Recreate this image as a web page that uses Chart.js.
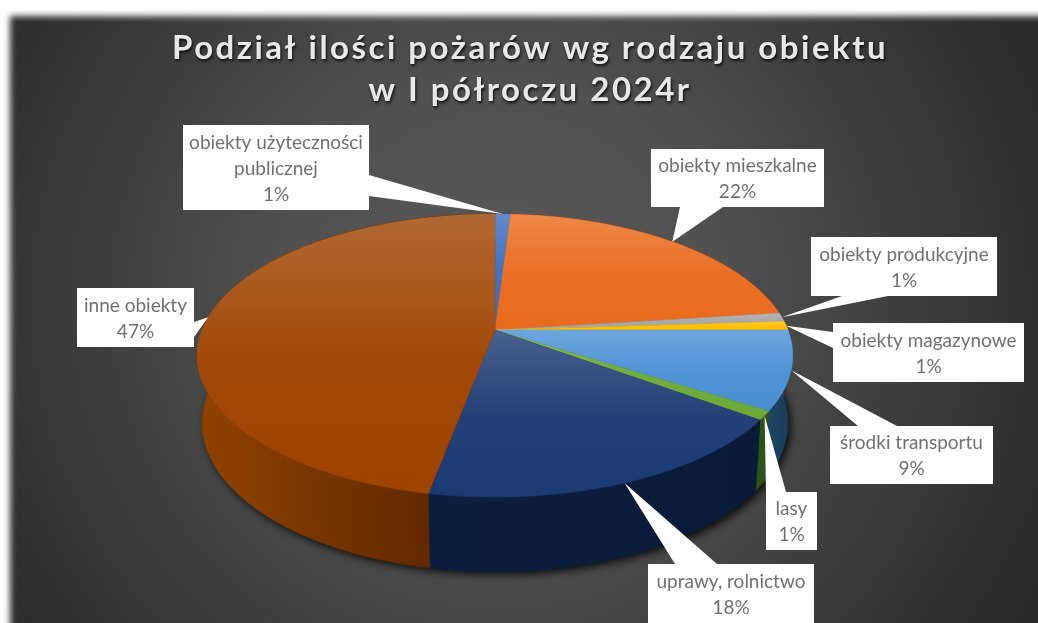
<!DOCTYPE html>
<html>
<head>
<meta charset="utf-8">
<title>Podział ilości pożarów</title>
<script src="https://cdn.jsdelivr.net/npm/chart.js@4"></script>
<style>
    body { margin: 0; background: #fff; overflow: hidden; }
    canvas { display: block; }
</style>
</head>
<body>
<canvas id="chart" width="1038" height="623"></canvas>
<script>
// Chart data
let categories = [
    'obiekty użyteczności publicznej',
    'obiekty mieszkalne',
    'obiekty produkcyjne',
    'obiekty magazynowe',
    'środki transportu',
    'lasy',
    'uprawy, rolnictwo',
    'inne obiekty'
];
let shares = [1, 22, 1, 1, 9, 1, 18, 47];
let titleLines = ['Podział ilości pożarów wg rodzaju obiektu', 'w I półroczu 2024r'];

// Slice colours: top face, then the wall (light end, dark end)
let topColors = ['#3a6cc0', '#e96a1c', '#a5a5a5', '#fdbf00', '#4a8fd4', '#6aa838', '#1b3a73', '#9e4300'];
let wallLight = ['#1d3a66', '#7a3a10', '#555555', '#806000', '#1f4768', '#2f5019', '#0d1f40', '#8f4200'];
let wallDark = ['#1d3a66', '#7a3a10', '#555555', '#806000', '#1a3d5c', '#2f5019', '#0a1a38', '#622800'];

// Label boxes: [left, top, right, bottom], the two wedge base points, and text lines
let boxes = [
    [183, 125, 369, 210], [651, 149, 824, 207], [811, 237, 997, 296], [833, 323, 1024, 382],
    [830, 426, 993, 484], [766, 492, 817, 550], [648, 564, 814, 623], [77, 288, 194, 347]
];
let wedges = [
    [[369, 175], [369, 196]], [[680, 207], [723, 207]], [[842, 296], [888, 296]], [[833, 332], [833, 348]],
    [[858, 426], [897, 426]], [[766, 492], [786, 492]], [[675, 564], [717, 564]], [[194, 322], [194, 337]]
];
let labelLines = [
    ['obiekty użyteczności', 'publicznej'], ['obiekty mieszkalne'], ['obiekty produkcyjne'], ['obiekty magazynowe'],
    ['środki transportu'], ['lasy'], ['uprawy, rolnictwo'], ['inne obiekty']
];

// How the flat pie is tilted: top face and bottom face of the disc in perspective
let topFace = { cx: 495, cy: 330, r: 293, k: 137, p: 0.18 };
let bottomFace = { cx: 495, cy: 396, r: 288, k: 144, p: 0.18 };

function project(face, angle) {
    let u = Math.cos(angle);
    let v = Math.sin(angle);
    let s = 1 / (1 - face.p * v);
    return [face.cx + face.r * u * s, face.cy + face.k * v * s];
}

// Trace an arc of a face, in steps small enough to look round
function traceArc(ctx, face, from, to) {
    let steps = Math.max(2, Math.ceil(Math.abs(to - from) / 0.01));
    for (let i = 0; i <= steps; i++) {
        let pt = project(face, from + (to - from) * i / steps);
        ctx.lineTo(pt[0], pt[1]);
    }
}

// Points along an arc, used to get the extent of a slice for its gradients
function sampleArc(face, from, to) {
    let pts = [];
    for (let i = 0; i <= 60; i++) {
        let angle = from + (to - from) * i / 60;
        pts.push({ pt: project(face, angle), front: Math.sin(angle) > 0 });
    }
    return pts;
}

// Panel background behind everything, and the title shadow and spacing
const backgroundPlugin = {
    id: 'panelBackground',
    beforeDraw(chart) {
        let ctx = chart.ctx;
        let glow = ctx.createRadialGradient(500, 300, 0, 500, 300, 640);
        glow.addColorStop(0, '#5a5a5a');
        glow.addColorStop(0.35, '#505050');
        glow.addColorStop(1, '#262626');
        ctx.save();
        ctx.filter = 'blur(3px)';
        ctx.fillStyle = glow;
        ctx.fillRect(10, 16, 1100, 700);
        ctx.restore();
        ctx.letterSpacing = '2.5px';
        ctx.shadowColor = 'rgba(0,0,0,0.8)';
        ctx.shadowBlur = 3;
        ctx.shadowOffsetY = 2;
        ctx.shadowOffsetX = 1;
    },
    beforeDatasetsDraw(chart) {
        let ctx = chart.ctx;
        ctx.letterSpacing = '0px';
        ctx.shadowColor = 'transparent';
        ctx.shadowBlur = 0;
        ctx.shadowOffsetY = 0;
        ctx.shadowOffsetX = 0;
    }
};

// Draws the arcs Chart.js laid out as a 3D disc
const tiltedPiePlugin = {
    id: 'tiltedPie',
    beforeDatasetDraw() {
        return false;
    },
    afterDatasetsDraw(chart) {
        let ctx = chart.ctx;
        let arcs = chart.getDatasetMeta(0).data;
        let first = arcs[0].startAngle;

        // Shadow under the disc
        ctx.save();
        ctx.shadowColor = 'rgba(0,0,0,0.85)';
        ctx.shadowBlur = 9;
        ctx.shadowOffsetX = 3;
        ctx.shadowOffsetY = 3;
        ctx.fillStyle = '#111';
        ctx.beginPath();
        traceArc(ctx, bottomFace, first, first + Math.PI * 2);
        ctx.closePath();
        ctx.fill();
        ctx.restore();

        // Walls, shaded across the part of each slice that faces the viewer
        arcs.forEach((arc, i) => {
            let xs = sampleArc(bottomFace, arc.startAngle, arc.endAngle)
                .filter(s => s.front)
                .map(s => s.pt[0]);
            let left = xs.length ? Math.min(...xs) : 0;
            let right = xs.length ? Math.max(...xs) : 1;
            let wall = ctx.createLinearGradient(left, 0, Math.max(right, left + 1), 0);
            wall.addColorStop(0, wallLight[i]);
            wall.addColorStop(1, wallDark[i]);
            ctx.fillStyle = wall;
            ctx.strokeStyle = wall;
            ctx.lineWidth = 0.6;
            ctx.beginPath();
            traceArc(ctx, topFace, arc.startAngle, arc.endAngle);
            traceArc(ctx, bottomFace, arc.endAngle, arc.startAngle);
            ctx.closePath();
            ctx.fill();
            ctx.stroke();
        });

        // Top faces, each slice with its own soft light from its upper edge
        arcs.forEach((arc, i) => {
            let ys = sampleArc(topFace, arc.startAngle, arc.endAngle).map(s => s.pt[1]);
            ys.push(topFace.cy);
            let light = ctx.createLinearGradient(0, Math.min(...ys), 0, Math.max(...ys));
            light.addColorStop(0, 'rgba(255,255,255,0.2)');
            light.addColorStop(0.5, 'rgba(255,255,255,0.04)');
            light.addColorStop(1, 'rgba(255,255,255,0)');
            ctx.beginPath();
            ctx.moveTo(topFace.cx, topFace.cy);
            traceArc(ctx, topFace, arc.startAngle, arc.endAngle);
            ctx.closePath();
            ctx.fillStyle = topColors[i];
            ctx.strokeStyle = topColors[i];
            ctx.lineWidth = 0.5;
            ctx.fill();
            ctx.stroke();
            ctx.fillStyle = light;
            ctx.fill();
        });

        // Callout labels
        ctx.font = '19px Lato';
        ctx.textAlign = 'center';
        ctx.textBaseline = 'middle';
        arcs.forEach((arc, i) => {
            let box = boxes[i];
            let tip = project(topFace, (arc.startAngle + arc.endAngle) / 2);
            ctx.fillStyle = '#ffffff';
            ctx.beginPath();
            ctx.moveTo(wedges[i][0][0], wedges[i][0][1]);
            ctx.lineTo(tip[0], tip[1]);
            ctx.lineTo(wedges[i][1][0], wedges[i][1][1]);
            ctx.closePath();
            ctx.fill();
            ctx.fillRect(box[0], box[1], box[2] - box[0], box[3] - box[1]);

            let lines = labelLines[i].concat(shares[i] + '%');
            let lineHeight = 26;
            let midX = (box[0] + box[2]) / 2;
            let startY = (box[1] + box[3]) / 2 + 1 - (lines.length - 1) * lineHeight / 2;
            ctx.fillStyle = '#707070';
            lines.forEach((line, n) => ctx.fillText(line, midX, startY + n * lineHeight));
        });
    }
};

let pieChart = new Chart(document.getElementById('chart'), {
    type: 'pie',
    data: {
        labels: categories,
        datasets: [{
            label: 'Udział pożarów',
            data: shares,
            backgroundColor: topColors
        }]
    },
    options: {
        responsive: false,
        animation: false,
        layout: { padding: { left: 22, top: 14 } },
        plugins: {
            legend: { display: false },
            tooltip: { enabled: false },
            title: {
                display: true,
                text: titleLines,
                color: '#e8e8e8',
                font: { family: 'Lato', size: 33, weight: 'bold', lineHeight: 1.27 },
                padding: { top: 13, bottom: 6 }
            }
        }
    },
    plugins: [backgroundPlugin, tiltedPiePlugin]
});
</script>
</body>
</html>
